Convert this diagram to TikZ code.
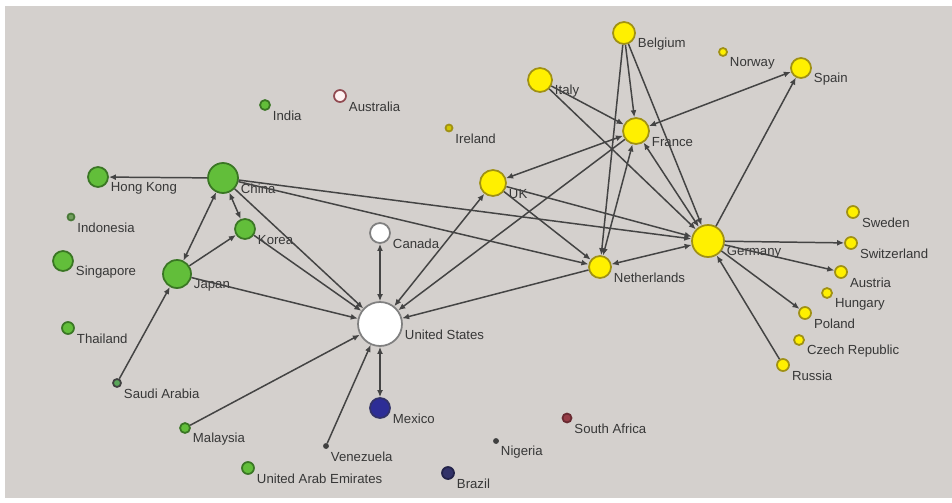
\documentclass[tikz,border=0pt]{standalone}
\usepackage{fontspec}
\setmainfont{Liberation Sans}
\usetikzlibrary{arrows.meta}

\definecolor{bggray}{RGB}{212,208,205}
\definecolor{ngreen}{RGB}{98,190,58}
\definecolor{dgreen}{RGB}{58,118,36}
\definecolor{nyellow}{RGB}{255,240,0}
\definecolor{dyellow}{RGB}{160,145,20}
\definecolor{edgegray}{RGB}{68,68,68}
\definecolor{txtgray}{RGB}{55,55,55}
\definecolor{nblue}{RGB}{45,45,150}
\definecolor{dblue}{RGB}{50,50,105}
\definecolor{nred}{RGB}{150,60,70}

\tikzset{
  ctry/.style={circle, draw, line width=1pt, inner sep=0pt, minimum size=#1*0.04cm},
  asia/.style={ctry=#1, fill=ngreen, draw=dgreen},
  euro/.style={ctry=#1, fill=nyellow, draw=dyellow},
  amer/.style={ctry=#1, fill=white, draw=gray},
  lbl/.style={font=\fontsize{7.5}{9}\selectfont, text=txtgray, inner sep=1pt, yshift=-0.22cm},
  link/.style={draw=edgegray, line width=0.85pt},
}

\begin{document}
\begin{tikzpicture}[x=0.02cm, y=-0.02cm, >={Latex[length=4pt,width=3.4pt]}]
\useasboundingbox (0,0) rectangle (952,503);
\fill[white] (0,0) rectangle (952,503);
\fill[bggray] (5,6) rectangle (952,498);

% Asia
\node[asia=15, label={[lbl]0:China}] (china) at (223,178) {};
\node[asia=10, label={[lbl]0:Hong Kong}] (hongkong) at (98,177) {};
\node[asia=10, label={[lbl]0:Korea}] (korea) at (245,229) {};
\node[asia=14, label={[lbl]0:Japan}] (japan) at (177,274) {};
\node[asia=10, label={[lbl]0:Singapore}] (singapore) at (63,261) {};
\node[asia=6, label={[lbl]0:Thailand}] (thailand) at (68,328) {};
\node[asia=5, label={[lbl]0:India}] (india) at (265,105) {};
\node[ctry=3.5, fill=ngreen!50!gray, draw=dgreen!80!gray, label={[lbl]0:Indonesia}] (indonesia) at (71,217) {};
\node[ctry=4, fill=gray!70!green, draw=darkgray, label={[lbl]0:Saudi Arabia}] (saudi) at (117,383) {};
\node[asia=5, label={[lbl]0:Malaysia}] (malaysia) at (185,428) {};
\node[asia=6, label={[lbl]0:United Arab Emirates}] (uae) at (248,468) {};

% Americas, Africa, Oceania
\node[amer=22, label={[lbl]0:United States}] (usa) at (380,324) {};
\node[amer=10, label={[lbl]0:Canada}] (canada) at (380,233) {};
\node[ctry=10, fill=nblue, draw=dblue, label={[lbl]0:Mexico}] (mexico) at (380,408) {};
\node[ctry=6, fill=dblue, draw=dblue!70!black, label={[lbl]0:Brazil}] (brazil) at (448,473) {};
\node[ctry=2, fill=darkgray, draw=darkgray, label={[lbl]0:Venezuela}] (venezuela) at (326,446) {};
\node[ctry=2, fill=darkgray, draw=darkgray, label={[lbl]0:Nigeria}] (nigeria) at (496,441) {};
\node[ctry=4.5, fill=nred, draw=nred!70!black, label={[lbl]0:South Africa}] (safrica) at (567,418) {};
\node[ctry=6, fill=red!5, draw=nred!80!gray, label={[lbl]0:Australia}] (australia) at (340,96) {};

% Europe
\node[euro=16, label={[lbl]0:Germany}] (germany) at (708,241) {};
\node[euro=13, label={[lbl]0:France}] (france) at (636,131) {};
\node[euro=13, label={[lbl]0:UK}] (uk) at (493,183) {};
\node[euro=12, label={[lbl]0:Italy}] (italy) at (540,80) {};
\node[euro=11, label={[lbl]0:Belgium}] (belgium) at (624,33) {};
\node[euro=10, label={[lbl]0:Spain}] (spain) at (801,68) {};
\node[euro=11, label={[lbl]0:Netherlands}] (netherlands) at (600,267) {};
\node[ctry=3.5, fill=yellow!60!olive, draw=dyellow, label={[lbl]0:Ireland}] (ireland) at (449,128) {};
\node[euro=4, label={[lbl]0:Norway}] (norway) at (723,52) {};
\node[euro=6, label={[lbl]0:Sweden}] (sweden) at (853,212) {};
\node[euro=6, label={[lbl]0:Switzerland}] (switzerland) at (851,243) {};
\node[euro=6, label={[lbl]0:Austria}] (austria) at (841,272) {};
\node[euro=5, label={[lbl]0:Hungary}] (hungary) at (827,293) {};
\node[euro=6, label={[lbl]0:Poland}] (poland) at (805,313) {};
\node[euro=5, label={[lbl]0:Czech Republic}] (czech) at (799,340) {};
\node[euro=6, label={[lbl]0:Russia}] (russia) at (783,365) {};

% links
\draw[link, ->] (china) -- (hongkong);
\draw[link, <->] (china) -- (korea);
\draw[link, <->] (china) -- (japan);
\draw[link, ->] (japan) -- (korea);
\draw[link, ->] (saudi) -- (japan);
\draw[link, ->] (japan) -- (usa);
\draw[link, ->] (china) -- (usa);
\draw[link, ->] (korea) -- (usa);
\draw[link, ->] (china) -- (germany);
\draw[link, ->] (china) -- (netherlands);
\draw[link, <->] (canada) -- (usa);
\draw[link, <->] (usa) -- (mexico);
\draw[link, ->] (malaysia) -- (usa);
\draw[link, ->] (venezuela) -- (usa);
\draw[link, <->] (uk) -- (usa);
\draw[link, ->] (france) -- (usa);
\draw[link, ->] (netherlands) -- (usa);
\draw[link, <->] (france) -- (uk);
\draw[link, ->] (uk) -- (germany);
\draw[link, ->] (uk) -- (netherlands);
\draw[link, ->] (belgium) -- (france);
\draw[link, ->] (belgium) -- (netherlands);
\draw[link, ->] (belgium) -- (germany);
\draw[link, ->] (italy) -- (france);
\draw[link, ->] (italy) -- (germany);
\draw[link, <->] (france) -- (spain);
\draw[link, ->] (germany) -- (spain);
\draw[link, <->] (france) -- (germany);
\draw[link, <->] (france) -- (netherlands);
\draw[link, <->] (netherlands) -- (germany);
\draw[link, ->] (germany) -- (switzerland);
\draw[link, ->] (germany) -- (austria);
\draw[link, ->] (germany) -- (poland);
\draw[link, ->] (russia) -- (germany);
\end{tikzpicture}
\end{document}
